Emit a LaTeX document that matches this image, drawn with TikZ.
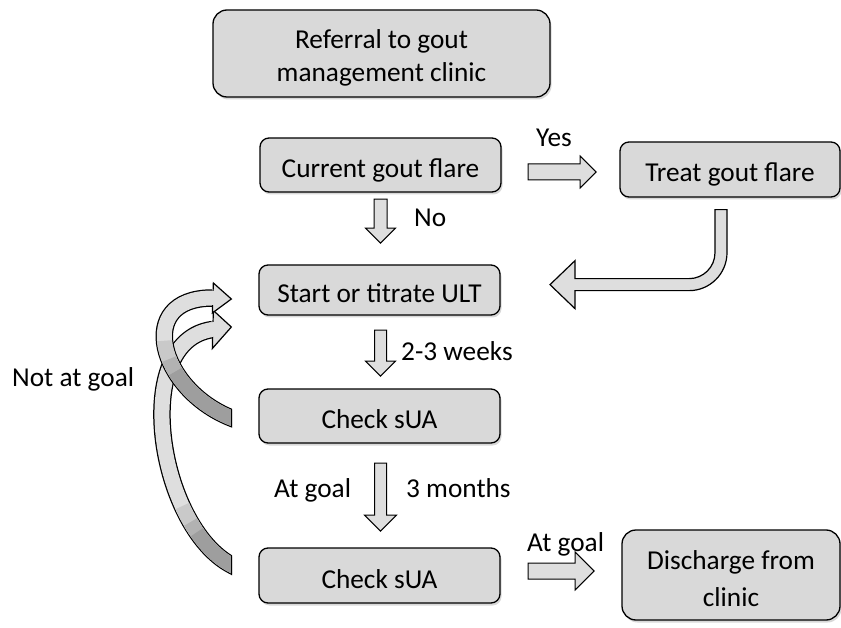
\documentclass[tikz,border=0pt]{standalone}
\usepackage{fontspec}
\setmainfont{Carlito}
\usetikzlibrary{shapes.arrows,shadows,calc}
\definecolor{boxfill}{gray}{0.85}
\definecolor{arrfill}{gray}{0.87}
\definecolor{arrdark}{gray}{0.62}
\definecolor{arrmid}{gray}{0.70}
\definecolor{arrmid2}{gray}{0.79}
\begin{document}
\begin{tikzpicture}[x=1pt,y=-1pt,
  font=\fontsize{27.3}{33.5}\selectfont,
  box/.style={draw, line width=1.3pt, fill=boxfill, rounded corners=9pt,
    minimum width=241pt, minimum height=54pt, inner sep=0pt, align=center,
    drop shadow={shadow xshift=1.5pt, shadow yshift=-2.5pt, opacity=0.3}},
  oneline/.style={text height=25pt, text depth=0pt},
  blockarr/.style={single arrow, draw, line width=1pt, fill=arrfill,
    single arrow tip angle=90, single arrow head indent=0pt, minimum width=0pt},
  lbl/.style={inner sep=0pt, anchor=base west},
  bandout/.style={line width=17.5pt, black, line cap=butt},
  bandin/.style={line width=15pt, arrfill, line cap=butt},
  banddark/.style={line width=15pt, arrdark, line cap=butt},
  headtri/.style={draw, line width=1.2pt, fill=arrfill, line join=miter}]
\useasboundingbox[fill=white] (0,0) rectangle (841,628);

% boxes
\node[box, minimum width=337pt, minimum height=87pt, rounded corners=14pt] (ref) at (381.5,53.5) {\rule{0pt}{28pt}Referral to gout\\management clinic};
\node[box, oneline] (cur) at (380.5,165) {Current gout flare};
\node[box, oneline, minimum width=220pt, minimum height=55pt] (treat) at (730,169.5) {Treat gout flare};
\node[box, oneline, minimum height=50pt] (ult) at (379.5,290) {Start or titrate ULT};
\node[box, oneline] (s1) at (379.5,416) {Check sUA};
\node[box, oneline, minimum height=55pt] (s2) at (379.5,575.5) {Check sUA};
\node[box, minimum width=218pt, minimum height=90pt, rounded corners=14pt] (dis) at (731,575) {\rule{0pt}{27pt}Discharge from\\[3.5pt]clinic};

% straight block arrows
\node[blockarr, rotate=-90, anchor=tail, minimum height=44pt, inner sep=6pt, single arrow head extend=8.5pt] (a1) at ($(cur.south)+(0,6)$) {};
\node[blockarr, rotate=-90, anchor=tail, minimum height=46pt, inner sep=5.5pt, single arrow head extend=9pt] (a2) at ($(ult.south)+(1,14)$) {};
\node[blockarr, rotate=-90, anchor=tail, minimum height=68pt, inner sep=5.5pt, single arrow head extend=10pt] (a3) at ($(s1.south)+(1,19)$) {};
\node[blockarr, anchor=tail, minimum height=68pt, inner sep=7.5pt, single arrow head extend=8pt] (a4) at ($(cur.east)+(26,7)$) {};
\node[blockarr, anchor=tail, minimum height=66pt, inner sep=7.5pt, single arrow head extend=11pt] (a5) at ($(s2.east)+(27,-4.5)$) {};

% bent arrow from treat to ult
\coordinate (bt) at ($(treat.south)+(-3,12)$);
\draw[line width=1.2pt, fill=arrfill, line join=miter] (bt) -- ++(0,43)
  arc[start angle=0, end angle=90, radius=38] -- ++(-114,0) -- ++(0,18)
  -- ++(-25,-24) -- ++(25,-24) -- ++(0,18) -- ++(114,0)
  arc[start angle=90, end angle=0, radius=26] -- ++(0,-43) -- cycle;

% curved arrows (not at goal)
\coordinate (At) at ($(s1.west)+(-27,2)$);
\coordinate (Ah) at ($(ult.west)+(-46,8)$);
\coordinate (Bt) at ($(s2.west)+(-27,-10.5)$);
\coordinate (Bh) at ($(ult.west)+(-45.5,39.5)$);

% arrow B (from lower Check sUA)
\begin{scope}
  \clip (0,0) rectangle (232,628);
  \draw[bandout] ($(Bt)+(8.8,4.7)$) -- (Bt) .. controls +(-73.9,-39.5) and +(-83.2,10.9) .. (Bh);
  \draw[bandin] ($(Bt)+(8.8,4.7)$) -- (Bt) .. controls +(-73.9,-39.5) and +(-83.2,10.9) .. (Bh);
  \draw[banddark, arrmid2, dash pattern=on 0pt off 60pt on 28pt off 3000pt] ($(Bt)+(8.8,4.7)$) -- (Bt) .. controls +(-73.9,-39.5) and +(-83.2,10.9) .. (Bh);
  \draw[banddark, arrmid, dash pattern=on 0pt off 55pt on 15pt off 3000pt] ($(Bt)+(8.8,4.7)$) -- (Bt) .. controls +(-73.9,-39.5) and +(-83.2,10.9) .. (Bh);
  \draw[banddark, dash pattern=on 58pt off 3000pt] ($(Bt)+(8.8,4.7)$) -- (Bt) .. controls +(-73.9,-39.5) and +(-83.2,10.9) .. (Bh);
\end{scope}
\draw[line width=1.2pt] ($(Bt)+(0,-9.9)$) -- ($(Bt)+(0,9.9)$);
\draw[headtri] ($(Bh)+(0.5,-19)$) -- ($(Bh)+(18.5,-2.5)$) -- ($(Bh)+(-0.5,19)$) -- cycle;
\draw[bandin, line width=14.5pt] ($(Bh)+(-3,0.4)$) -- ($(Bh)+(3,-0.4)$);

% arrow A (from upper Check sUA)
\begin{scope}
  \clip (0,0) rectangle (232,628);
  \draw[bandout] ($(At)+(9.3,3.7)$) -- (At) .. controls +(-72.5,-28.9) and +(-78,0) .. (Ah);
  \draw[bandin] ($(At)+(9.3,3.7)$) -- (At) .. controls +(-72.5,-28.9) and +(-78,0) .. (Ah);
  \draw[banddark, arrmid2, dash pattern=on 0pt off 85pt on 32pt off 3000pt] ($(At)+(9.3,3.7)$) -- (At) .. controls +(-72.5,-28.9) and +(-78,0) .. (Ah);
  \draw[banddark, arrmid, dash pattern=on 0pt off 80pt on 18pt off 3000pt] ($(At)+(9.3,3.7)$) -- (At) .. controls +(-72.5,-28.9) and +(-78,0) .. (Ah);
  \draw[banddark, dash pattern=on 84pt off 3000pt] ($(At)+(9.3,3.7)$) -- (At) .. controls +(-72.5,-28.9) and +(-78,0) .. (Ah);
\end{scope}
\draw[line width=1.2pt] ($(At)+(0,-9.4)$) -- ($(At)+(0,9.4)$);
\draw[headtri] ($(Ah)+(1,-15)$) -- ($(Ah)+(19,1)$) -- ($(Ah)+(0,15)$) -- cycle;
\draw[bandin, line width=14.5pt] ($(Ah)+(-3,0)$) -- ($(Ah)+(3,0)$);

% labels
\node[lbl] (lyes) at (536,146.7) {Yes};
\node[lbl] (lno) at (414,226.7) {No};
\node[lbl] (lwk) at (401,360) {2-3 weeks};
\node[lbl] (lag1) at (274,497) {At goal};
\node[lbl] (lmo) at (406,497) {3 months};
\node[lbl] (lag2) at (527,551.7) {At goal};
\node[lbl] (lnag) at (12,386.7) {Not at goal};
\end{tikzpicture}
\end{document}
